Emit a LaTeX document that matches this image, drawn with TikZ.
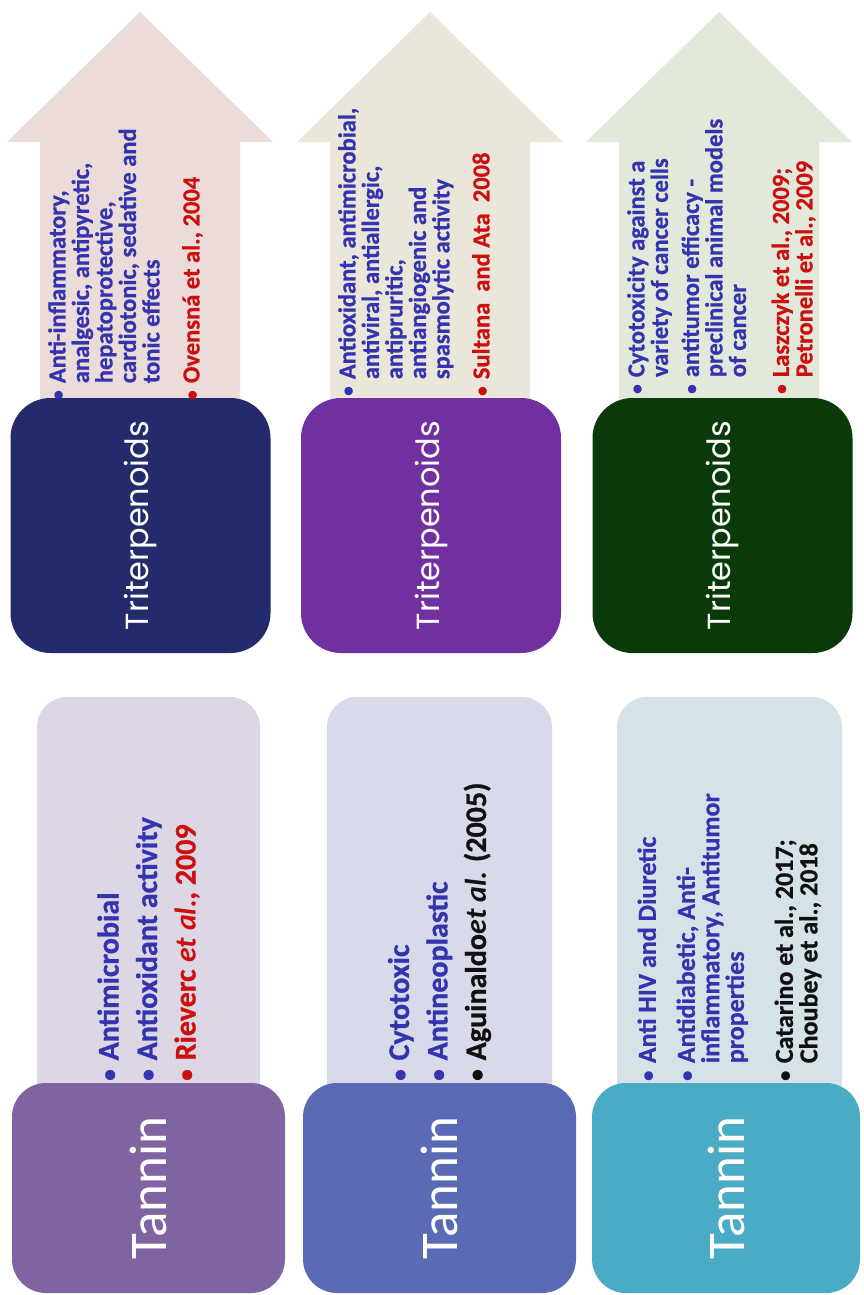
\documentclass[tikz,border=0pt]{standalone}
\usepackage{fontspec}
\setmainfont{Carlito}[BoldFeatures={FakeBold=0.8}]
\newfontfamily\tritfont{Poppins}
\newfontfamily\tanfont{Carlito}
\definecolor{arrA}{HTML}{EBDCDA}
\definecolor{arrB}{HTML}{EAE6DA}
\definecolor{arrC}{HTML}{E2E9DA}
\definecolor{triA}{HTML}{232B6D}
\definecolor{triB}{HTML}{7030A0}
\definecolor{triC}{HTML}{0A3A0A}
\definecolor{tanA}{HTML}{8064A2}
\definecolor{tanB}{HTML}{5A6AB4}
\definecolor{tanC}{HTML}{4AABC5}
\definecolor{ligA}{HTML}{DDD6E4}
\definecolor{ligB}{HTML}{D9DAE9}
\definecolor{ligC}{HTML}{D5E3E9}
\definecolor{tblue}{HTML}{3434AE}
\definecolor{tred}{HTML}{CC1010}
\definecolor{tblack}{HTML}{111111}
\newcommand{\bdot}[1]{\makebox[0.68em][l]{\color{#1}\raisebox{0.06em}{\scalebox{0.78}{\textbullet}}}}
\newcommand{\bul}[2]{\bdot{#1}\textcolor{#1}{#2}}
\newcommand{\cnt}[2]{\hspace*{0.68em}\textcolor{#1}{#2}}
\tikzset{
  tribox/.style={rotate=90, rounded corners=40pt, minimum width=255pt, minimum height=260pt,
    inner sep=0pt, text=white, font=\tritfont\fontsize{32}{32}\selectfont},
  tanbox/.style={rotate=90, rounded corners=34pt, minimum width=210pt, minimum height=273pt,
    inner sep=0pt, text=white, font=\tanfont\fontsize{53}{53}\selectfont},
  ligbox/.style={rounded corners=30pt},
  arrtext/.style={rotate=90, align=left, inner sep=0pt, anchor=north west,
    font=\fontsize{24.5}{23.5}\selectfont\bfseries},
  tanlistA/.style={rotate=90, align=left, inner sep=0pt, anchor=west,
    font=\fontsize{30}{38.5}\selectfont\bfseries},
  tanlistC/.style={rotate=90, align=left, inner sep=0pt, anchor=west,
    font=\fontsize{26}{24.5}\selectfont\bfseries},
}
\begin{document}
\begin{tikzpicture}[x=1pt,y=-1pt]
\useasboundingbox (0,0) rectangle (864,1295);
% arrows
\foreach \c/\col in {140/arrA, 430/arrB, 719/arrC}{
  \fill[\col] (\c,12) -- (\c+133,142) -- (\c+100,142) -- (\c+100,420)
     -- (\c-100,420) -- (\c-100,142) -- (\c-133,142) -- cycle;
}
% Triterpenoids boxes
\node[tribox, fill=triA] (tri1) at (140.5,525.5) {Triterpenoids};
\node[tribox, fill=triB] (tri2) at (431,525.5) {Triterpenoids};
\node[tribox, fill=triC] (tri3) at (722.5,525.5) {Triterpenoids};
% light boxes
\fill[ligbox, ligA] (37,697) rectangle (260,1110);
\fill[ligbox, ligB] (327,697) rectangle (552,1110);
\fill[ligbox, ligC] (617,697) rectangle (842,1110);
% Tannin boxes
\node[tanbox, fill=tanA] (tan1) at (148.5,1188) {Tannin};
\node[tanbox, fill=tanB] (tan2) at (439.5,1188) {Tannin};
\node[tanbox, fill=tanC, minimum height=268pt] (tan3) at (726,1188) {Tannin};
% arrow texts
\node[arrtext] (a1t) at (48,400) {%
\bul{tblue}{Anti-inflammatory,}\\
\cnt{tblue}{analgesic, antipyretic,}\\
\cnt{tblue}{hepatoprotective,}\\
\cnt{tblue}{cardiotonic, sedative and}\\
\cnt{tblue}{tonic effects}\\[16.5pt]
\bul{tred}{Ovensná et al., 2004}};
\node[arrtext] (a2t) at (338,396) {%
\bul{tblue}{Antioxidant, antimicrobial,}\\
\cnt{tblue}{antiviral, antiallergic,}\\
\cnt{tblue}{antipruritic,}\\
\cnt{tblue}{antiangiogenic and}\\
\cnt{tblue}{spasmolytic activity}\\[16.5pt]
\bul{tred}{Sultana\ \ and Ata\ \ 2008}};
\node[arrtext] (a3t) at (627,394) {%
\bul{tblue}{Cytotoxicity against a}\\
\cnt{tblue}{variety of cancer cells}\\[7.5pt]
\bul{tblue}{antitumor efficacy -}\\
\cnt{tblue}{preclinical animal models}\\
\cnt{tblue}{of cancer}\\[19.5pt]
\bul{tred}{Laszczyk et al., 2009;}\\
\cnt{tred}{Petronelli et al., 2009}};
% tannin lists
\node[tanlistA] (l1t) at (148.5,1081) {%
\bul{tblue}{Antimicrobial}\\
\bul{tblue}{Antioxidant activity}\\
\bul{tred}{Rieverc \textit{et al.}, 2009}};
\node[tanlistA] (l2t) at (439.5,1081) {%
\bul{tblue}{Cytotoxic}\\
\bul{tblue}{Antineoplastic}\\
\bul{tblack}{Aguinaldo\textit{et al.} (2005)}};
\node[tanlistC] (l3t) at (729.5,1081) {%
\bul{tblue}{Anti HIV and Diuretic}\\[14.5pt]
\bul{tblue}{Antidiabetic, Anti-}\\
\cnt{tblue}{inflammatory, Antitumor}\\
\cnt{tblue}{properties}\\[24.5pt]
\bul{tblack}{Catarino et al., 2017;}\\
\cnt{tblack}{Choubey et al., 2018}};
\end{tikzpicture}
\end{document}
